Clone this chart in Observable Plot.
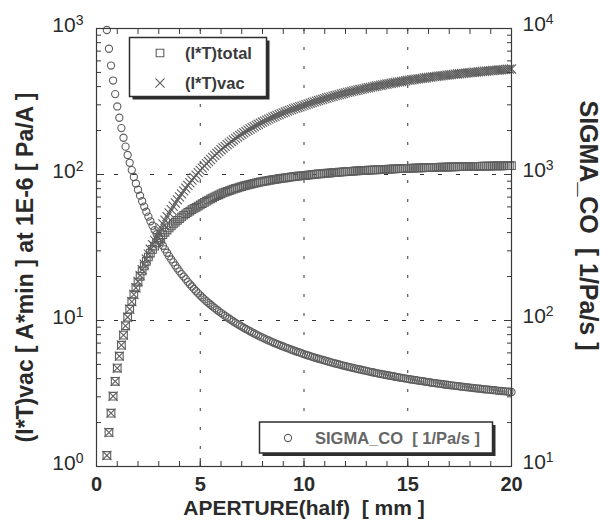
<!DOCTYPE html>
<html><head><meta charset="utf-8">
<script src="https://cdn.jsdelivr.net/npm/d3@7"></script>
<script src="https://cdn.jsdelivr.net/npm/@observablehq/plot@0.6"></script>
<style>
html,body{margin:0;padding:0;background:#fff;}
#chart svg{display:block;}
#chart text{white-space:pre;}
</style></head><body><div id="chart"></div>
<script>
// APERTURE(half) [mm]
const aperture = [0.5,0.6,0.7,0.8,0.9,
1.0,1.1,1.2,1.3,1.4,1.5,1.6,1.7,1.8,1.9,
2.0,2.1,2.2,2.3,2.4,2.5,2.6,2.7,2.8,2.9,
3.0,3.1,3.2,3.3,3.4,3.5,3.6,3.7,3.8,3.9,
4.0,4.1,4.2,4.3,4.4,4.5,4.6,4.7,4.8,4.9,
5.0,5.1,5.2,5.3,5.4,5.5,5.6,5.7,5.8,5.9,
6.0,6.1,6.2,6.3,6.4,6.5,6.6,6.7,6.8,6.9,
7.0,7.1,7.2,7.3,7.4,7.5,7.6,7.7,7.8,7.9,
8.0,8.1,8.2,8.3,8.4,8.5,8.6,8.7,8.8,8.9,
9.0,9.1,9.2,9.3,9.4,9.5,9.6,9.7,9.8,9.9,
10.0,10.1,10.2,10.3,10.4,10.5,10.6,10.7,10.8,10.9,
11.0,11.1,11.2,11.3,11.4,11.5,11.6,11.7,11.8,11.9,
12.0,12.1,12.2,12.3,12.4,12.5,12.6,12.7,12.8,12.9,
13.0,13.1,13.2,13.3,13.4,13.5,13.6,13.7,13.8,13.9,
14.0,14.1,14.2,14.3,14.4,14.5,14.6,14.7,14.8,14.9,
15.0,15.1,15.2,15.3,15.4,15.5,15.6,15.7,15.8,15.9,
16.0,16.1,16.2,16.3,16.4,16.5,16.6,16.7,16.8,16.9,
17.0,17.1,17.2,17.3,17.4,17.5,17.6,17.7,17.8,17.9,
18.0,18.1,18.2,18.3,18.4,18.5,18.6,18.7,18.8,18.9,
19.0,19.1,19.2,19.3,19.4,19.5,19.6,19.7,19.8,19.9,
20.0];

// (I*T)total  [left axis]
const itTotal = [1.19,1.71,2.32,3.03,3.83,
4.72,5.70,6.78,7.94,9.19,10.53,11.96,13.47,15.07,16.75,
18.34,20.08,21.86,23.64,25.43,27.22,28.96,30.68,32.32,33.96,
35.57,37.09,38.71,40.18,41.66,43.10,44.46,45.83,47.17,48.53,
49.90,51.23,52.59,53.82,55.05,56.18,57.40,58.54,59.64,60.78,
61.83,63.11,64.43,65.64,66.88,68.05,69.24,70.40,71.52,72.64,
73.70,74.73,75.68,76.64,77.56,78.49,79.34,80.24,81.06,81.91,
82.71,83.46,84.18,84.92,85.61,86.32,86.96,87.63,88.25,88.90,
89.48,90.03,90.58,91.11,91.63,92.13,92.64,93.10,93.59,94.02,
94.49,94.90,95.35,95.75,96.17,96.55,96.94,97.30,97.69,98.03,
98.40,98.76,99.13,99.49,99.84,100.18,100.51,100.84,101.15,101.46,
101.76,102.08,102.37,102.66,102.94,103.22,103.50,103.76,104.03,104.28,
104.53,104.78,105.02,105.26,105.48,105.70,105.92,106.14,106.35,106.55,
106.76,106.96,107.16,107.36,107.55,107.75,107.93,108.11,108.29,108.46,
108.64,108.81,108.98,109.15,109.31,109.47,109.63,109.79,109.94,110.09,
110.24,110.38,110.52,110.65,110.78,110.91,111.04,111.16,111.28,111.40,
111.52,111.64,111.75,111.86,111.97,112.08,112.19,112.29,112.39,112.49,
112.59,112.69,112.79,112.88,112.98,113.07,113.16,113.25,113.33,113.42,
113.51,113.59,113.67,113.75,113.84,113.92,114.00,114.08,114.15,114.23,
114.31,114.38,114.45,114.53,114.60,114.66,114.73,114.80,114.86,114.93,
114.99];

// (I*T)vac  [left axis]
const itVac = [1.19,1.71,2.32,3.03,3.83,
4.72,5.70,6.78,7.94,9.19,10.53,11.96,13.47,15.07,16.75,
18.51,20.35,22.28,24.28,26.36,28.51,30.74,33.04,35.41,37.85,
40.35,43.0,45.8,48.6,51.5,54.5,57.5,60.6,63.8,67.0,
70.3,73.7,77.2,80.6,84.2,87.8,91.5,95.2,99.0,102.9,
106.7,110.6,114.7,118.6,122.7,126.7,130.9,135.1,139.3,143.6,
147.8,152.0,156.0,160.1,164.2,168.4,172.4,176.7,180.7,185.0,
189.1,193.1,197.0,201.1,205.0,209.1,212.9,217.0,220.8,224.9,
228.7,232.3,236.0,239.6,243.3,246.8,250.5,253.9,257.6,260.9,
264.5,267.8,271.4,274.6,278.1,281.3,284.7,287.8,291.2,294.3,
297.6,301.0,304.4,307.8,311.2,314.5,317.8,321.1,324.3,327.5,
330.7,334.0,337.2,340.4,343.5,346.7,349.8,352.8,355.9,358.9,
361.9,364.9,367.8,370.7,373.5,376.3,379.2,381.9,384.7,387.4,
390.1,392.8,395.6,398.3,400.9,403.6,406.2,408.8,411.4,413.9,
416.5,419.0,421.5,424.0,426.5,428.9,431.4,433.8,436.1,438.5,
440.8,443.1,445.3,447.4,449.6,451.7,453.8,455.9,458.0,460.0,
462.1,464.1,466.0,468.0,469.9,471.8,473.7,475.6,477.5,479.3,
481.1,482.9,484.7,486.5,488.2,489.9,491.6,493.3,494.9,496.6,
498.2,499.9,501.5,503.1,504.8,506.3,507.9,509.5,511.0,512.5,
514.0,515.5,517.0,518.5,519.9,521.3,522.7,524.1,525.5,526.9,
528.2];

// SIGMA_CO [1/Pa/s]  [right axis]
const sigmaCO = [9770,7264,5577,4400,3553,
2925,2448,2079,1786,1552,1361,1203,1072,961,867,
786,716,656,603,556,515,478,446,416,390,
366,345,325,307,291,276,262,250,238,227,
217,208,200,192,184,177,171,164.5,158.7,153.3,
148.2,143.8,139.5,135.5,131.7,128.2,124.7,121.5,118.5,115.5,
112.8,110.1,107.5,105.1,102.8,100.6,98.5,96.4,94.5,92.7,
90.9,89.1,87.5,85.9,84.4,82.9,81.5,80.1,78.8,77.5,
76.3,75.2,74.0,73.0,71.9,70.9,69.9,69.0,68.1,67.2,
66.4,65.5,64.7,63.9,63.1,62.3,61.6,60.9,60.2,59.5,
58.9,58.2,57.6,57.0,56.4,55.8,55.3,54.7,54.2,53.7,
53.2,52.7,52.2,51.7,51.3,50.8,50.4,50.0,49.5,49.1,
48.7,48.3,48.0,47.6,47.2,46.8,46.5,46.2,45.8,45.5,
45.2,44.8,44.5,44.2,43.9,43.6,43.3,43.0,42.8,42.5,
42.2,42.0,41.7,41.5,41.2,41.0,40.7,40.5,40.3,40.0,
39.8,39.6,39.4,39.2,39.0,38.8,38.6,38.4,38.2,38.0,
37.8,37.6,37.4,37.3,37.1,36.9,36.8,36.6,36.4,36.3,
36.1,36.0,35.8,35.7,35.5,35.4,35.2,35.1,35.0,34.8,
34.7,34.6,34.4,34.3,34.2,34.1,33.9,33.8,33.7,33.6,
33.5,33.4,33.3,33.1,33.0,32.9,32.8,32.7,32.6,32.5,
32.4];

// ticks and grid
const xMajorTicks = [0,5,10,15,20];
const xMinorTicks = [0,1,2,3,4,5,6,7,8,9,10,11,12,13,14,15,16,17,18,19,20];
const yMajorTicks = [1,10,100,1000];
const yMinorTicks = [2,3,4,5,6,7,8,9,20,30,40,50,60,70,80,90,200,300,400,500,600,700,800,900];
const xGrid = [5,10,15];
const yGrid = [10,100];
const rightAxisFactor = 10; // right axis (SIGMA_CO) = left axis x 10

// texts
const xTitle = "APERTURE(half)  [ mm ]";
const yLeftTitle = "(I*T)vac [ A*min ] at 1E-6 [ Pa/A ]";
const yRightTitle = "SIGMA_CO  [ 1/Pa/s ]";
const seriesNames = ["(I*T)total", "(I*T)vac", "SIGMA_CO  [ 1/Pa/s ]"];

const rows = aperture.map((a, i) => ({a, total: itTotal[i], vac: itVac[i], sigma: sigmaCO[i]}));

const FONT = "'Liberation Sans', Arial, Helvetica, sans-serif";
const AX = "#3a3a3a";
const MK = "#5e5e5e";
const TX = "#2a2a2a";

const plot = Plot.plot({
  width: 601, height: 527,
  marginLeft: 96, marginRight: 90, marginTop: 28, marginBottom: 61,
  style: {fontFamily: FONT, background: "white", color: "#222"},
  x: {domain: [0, 20], label: null},
  y: {type: "log", domain: [1, 1000], label: null},
  marks: [
    Plot.ruleX(xGrid, {stroke: "#333", strokeWidth: 1, strokeDasharray: "3,16"}),
    Plot.ruleY(yGrid, {stroke: "#333", strokeWidth: 1, strokeDasharray: "4,14"}),
    Plot.dot(rows, {x: "a", y: d => d.sigma / rightAxisFactor, r: 3.6, fill: "none", stroke: MK, strokeWidth: 1.1}),
    Plot.dot(rows, {x: "a", y: "total", symbol: "square", r: 4.3, fill: "none", stroke: MK, strokeWidth: 1.1}),
    Plot.dot(rows, {x: "a", y: "vac", symbol: "times", r: 4.2, fill: "none", stroke: MK, strokeWidth: 1.1}),
    Plot.frame({stroke: AX, strokeWidth: 1.2}),
    // inward ticks
    Plot.axisX(xMinorTicks, {anchor: "bottom", tickSize: -5, tickFormat: () => "", stroke: AX, label: null}),
    Plot.axisX(xMajorTicks, {anchor: "bottom", tickSize: -8, tickFormat: () => "", stroke: AX, label: null}),
    Plot.axisX(xMinorTicks, {anchor: "top", tickSize: -5, tickFormat: () => "", stroke: AX, label: null}),
    Plot.axisY(yMinorTicks, {anchor: "left", tickSize: -5, tickFormat: () => "", stroke: AX, label: null}),
    Plot.axisY(yMajorTicks, {anchor: "left", tickSize: -8, tickFormat: () => "", stroke: AX, label: null}),
    Plot.axisY(yMinorTicks, {anchor: "right", tickSize: -5, tickFormat: () => "", stroke: AX, label: null}),
    Plot.axisY(yMajorTicks, {anchor: "right", tickSize: -8, tickFormat: () => "", stroke: AX, label: null}),
    // tick labels
    Plot.axisX(xMajorTicks, {anchor: "bottom", tickSize: 0, tickPadding: 10, fontSize: 20, fontWeight: "bold", fill: TX, label: null}),
    Plot.axisY(yMajorTicks, {anchor: "left", tickSize: 0, tickPadding: 13, dy: -3, fontSize: 21, fill: TX, label: null,
      tickFormat: d => "10^" + Math.round(Math.log10(d))}),
    Plot.axisY(yMajorTicks, {anchor: "right", tickSize: 0, tickPadding: 11, dy: -4, fontSize: 21, fill: TX, label: null,
      tickFormat: d => "10^" + Math.round(Math.log10(d * rightAxisFactor))}),
    // axis titles
    Plot.text([xTitle], {frameAnchor: "bottom", textAnchor: "middle", dy: 48, fontSize: 21, fontWeight: "bold", fill: TX}),
    Plot.text([yLeftTitle], {frameAnchor: "left", textAnchor: "middle", dx: -71, dy: 20, rotate: -90, fontSize: 23, fontWeight: "bold", fill: TX}),
    Plot.text([yRightTitle], {frameAnchor: "right", textAnchor: "middle", dx: 76, dy: -22, rotate: 90, fontSize: 25, fontWeight: "bold", fill: TX})
  ]
});

document.getElementById("chart").appendChild(plot);

// superscript exponents on log tick labels
d3.select(plot).selectAll('g[aria-label="y-axis tick label"] text').each(function () {
  const m = /^10\^(-?\d+)$/.exec(this.textContent);
  if (m) {
    this.textContent = "10";
    d3.select(this).append("tspan").attr("dy", -7).attr("font-size", 14).text(m[1]);
  }
});

// legends
const svg = d3.select(plot);
function legendBox(x, y, w, h) {
  const g = svg.append("g");
  g.append("rect").attr("x", x + 3).attr("y", y + 3).attr("width", w).attr("height", h).attr("fill", "#2e2e2e");
  g.append("rect").attr("x", x).attr("y", y).attr("width", w).attr("height", h)
    .attr("fill", "white").attr("stroke", "#2e2e2e").attr("stroke-width", 1.5);
  return g;
}
function legendSymbol(g, type, size, cx, cy) {
  g.append("path").attr("d", d3.symbol(type, size)()).attr("transform", `translate(${cx},${cy})`)
    .attr("fill", "none").attr("stroke", MK).attr("stroke-width", 1.1);
}
function legendText(g, txt, x, y, color) {
  g.append("text").attr("x", x).attr("y", y).attr("dy", "0.35em").attr("font-size", 16.5)
    .attr("text-anchor", "start").attr("font-weight", "bold").attr("fill", color)
    .attr("font-family", FONT).text(txt);
}
const L1 = legendBox(129.5, 37.5, 137, 59);
legendSymbol(L1, d3.symbolSquare, Math.PI * 4.3 * 4.3, 160, 53);
legendText(L1, seriesNames[0], 185, 53, "#3a3a3a");
legendSymbol(L1, d3.symbolTimes, Math.PI * 4.2 * 4.2, 160, 83);
legendText(L1, seriesNames[1], 185, 83, "#3a3a3a");

const L2 = legendBox(259.5, 422, 233, 31);
legendSymbol(L2, d3.symbolCircle, Math.PI * 3.6 * 3.6, 288, 438);
legendText(L2, seriesNames[2], 315, 438, "#666");
</script>
</body></html>
